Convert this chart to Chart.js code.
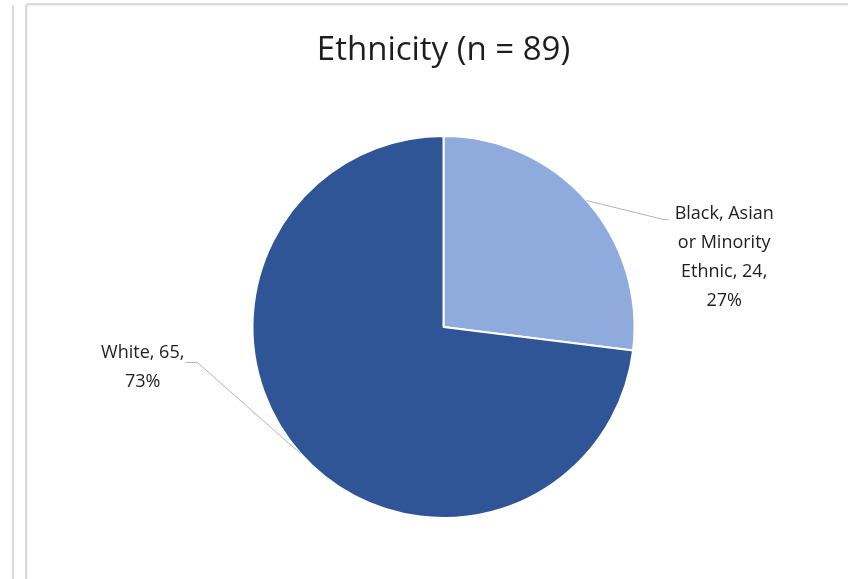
<!DOCTYPE html>
<html>
<head>
<meta charset="utf-8">
<script src="https://cdn.jsdelivr.net/npm/chart.js@4"></script>
<style>
html, body { margin: 0; padding: 0; background: #fff; overflow: hidden; }
#wrap { position: relative; width: 848px; height: 579px; }
.edge { position: absolute; left: 12px; top: 5px; width: 2px; height: 600px; background: #dadada; border-radius: 2px; }
.frame { position: absolute; left: 25px; top: 3px; width: 900px; height: 700px; border: 2px solid #d9d9d9; border-radius: 4px; box-shadow: inset 1px 1px 2px #f0f0f0; }
#chart { position: absolute; left: 0; top: 0; }
</style>
</head>
<body>
<div id="wrap">
	<div class="edge"></div>
	<div class="frame"></div>
	<canvas id="chart" width="848" height="579"></canvas>
</div>
<script>
'use strict';

var categories = ['Black, Asian or Minority Ethnic', 'White'];
var counts = [24, 65];
var labelLines = [
	['Black, Asian', 'or Minority', 'Ethnic, 24,', '27%'],
	['White, 65,', '73%']
];
var sliceColors = ['#8FAADC', '#2F5597'];

/* where each leader line bends (from the slice's outer midpoint), tail length, gap to text */
var elbows = [
	{ dx: 77, dy: 19, side: 1, tail: 5, gap: 6 },
	{ dx: -103, dy: -91, side: -1, tail: 12, gap: 1 }
];

/* leader lines + data labels */
var pieLabels = {
	id: 'pieLabels',
	afterDatasetsDraw: function (chart) {
		var ctx = chart.ctx;
		var arcs = chart.getDatasetMeta(0).data;
		ctx.save();
		ctx.font = '18px "Open Sans"';
		ctx.textAlign = 'center';
		ctx.textBaseline = 'middle';
		for (var i = 0; i < arcs.length; i++) {
			var a = arcs[i];
			var e = elbows[i];
			var mid = (a.startAngle + a.endAngle) / 2;
			var px = a.x + Math.cos(mid) * a.outerRadius;
			var py = a.y + Math.sin(mid) * a.outerRadius;
			var ex = px + e.dx;
			var ey = py + e.dy;
			var hx = ex + e.side * e.tail;

			ctx.strokeStyle = '#b4b4b4';
			ctx.lineWidth = 1;
			ctx.beginPath();
			ctx.moveTo(px, py);
			ctx.lineTo(ex, ey);
			ctx.lineTo(hx, ey);
			ctx.stroke();

			var lines = labelLines[i];
			var w = 0;
			for (var j = 0; j < lines.length; j++) {
				w = Math.max(w, ctx.measureText(lines[j]).width);
			}
			var cx = hx + e.side * (w / 2 + e.gap);
			var top = e.side > 0 ? ey - 6 : ey - 10;
			ctx.fillStyle = '#1e1e1e';
			for (var k = 0; k < lines.length; k++) {
				ctx.fillText(lines[k], cx, top + k * 29);
			}
		}
		ctx.restore();
	}
};

var chart = new Chart(document.getElementById('chart').getContext('2d'), {
	type: 'pie',
	data: {
		labels: categories,
		datasets: [{
			data: counts,
			backgroundColor: sliceColors,
			borderColor: '#ffffff',
			borderWidth: 2
		}]
	},
	options: {
		responsive: false,
		animation: false,
		radius: 191,
		layout: { padding: { left: 243.5, right: 204.5, top: 0, bottom: 59 } },
		plugins: {
			legend: { display: false },
			tooltip: { enabled: false },
			title: {
				display: true,
				text: 'Ethnicity (n = 89)',
				color: '#1e1e1e',
				font: { family: 'Open Sans', size: 33, weight: 'normal', lineHeight: 1.2 },
				padding: { top: 31, bottom: 63.4 }
			}
		}
	},
	plugins: [pieLabels]
});
</script>
</body>
</html>
